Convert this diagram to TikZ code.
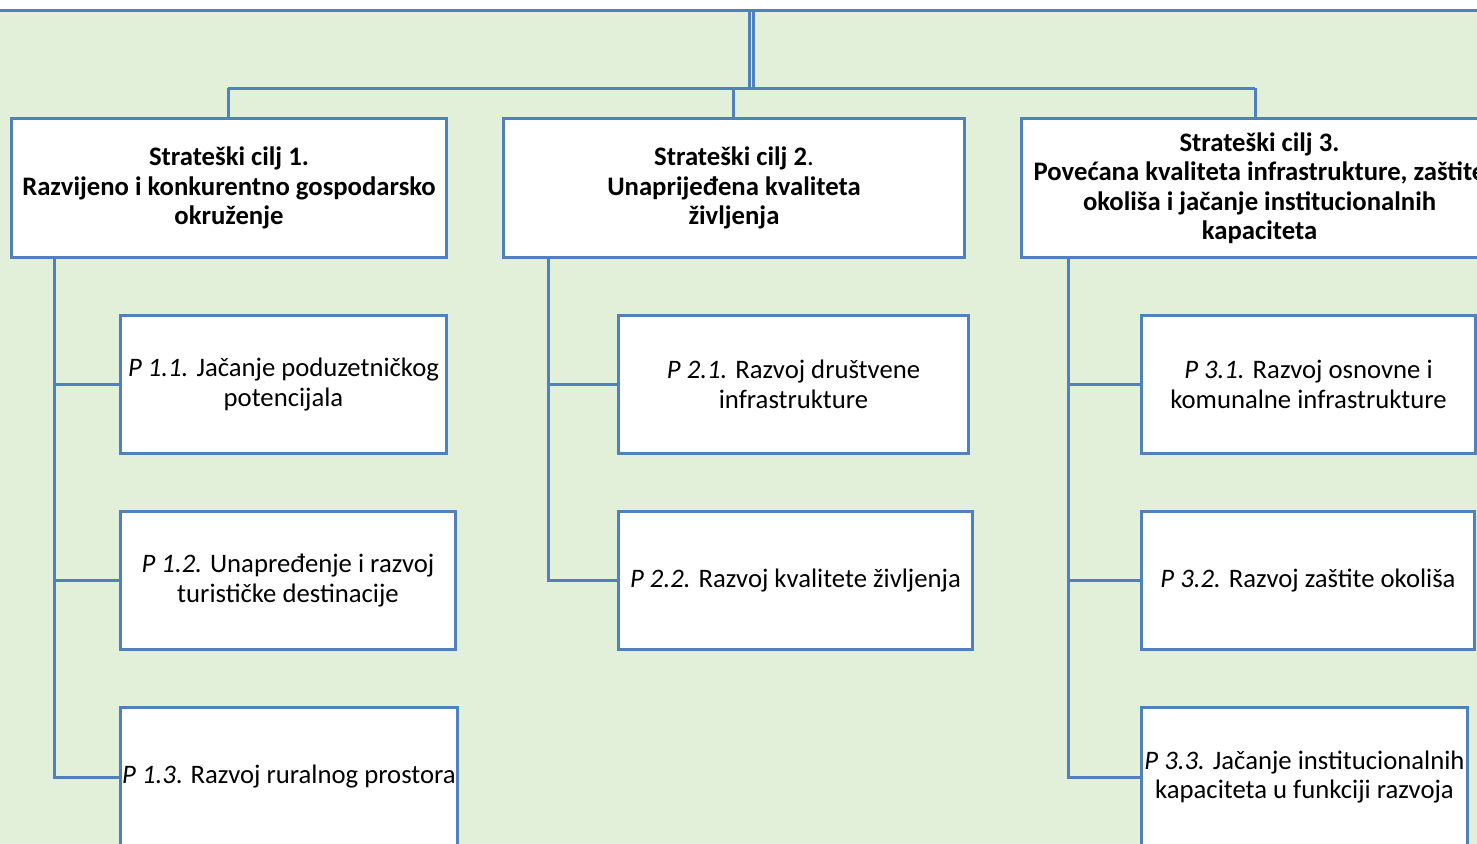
\documentclass[tikz,border=0pt]{standalone}
\usepackage{fontspec}
\setmainfont{Carlito}
\definecolor{lineblue}{HTML}{4F81BD}
\definecolor{bggreen}{HTML}{E2EFD9}
\begin{document}
\begin{tikzpicture}[x=1pt,y=-1pt,
  box/.style={draw=lineblue, line width=3pt, fill=white, inner sep=1pt,
    align=center, font=\fontsize{26.7}{29.5}\selectfont, anchor=north west},
  conn/.style={draw=lineblue, line width=3pt}]
\useasboundingbox (0,0) rectangle (1477,843);
\begin{scope}
\clip (0,0) rectangle (1477,843);
% background frame
\path[fill=bggreen, draw=lineblue, line width=3pt] (-10,11) rectangle (1490,880);
% strategic goals
\node[box, minimum width=435pt, minimum height=139pt] (S1) at (10,117)
  {\textbf{Strateški cilj 1.}\\\textbf{Razvijeno i konkurentno gospodarsko}\\\textbf{okruženje}};
\node[box, minimum width=461pt, minimum height=139pt] (S2) at (502,117)
  {\textbf{Strateški cilj 2}.\\\textbf{Unaprijeđena kvaliteta}\\\textbf{življenja}};
\node[box, minimum width=476pt, minimum height=139pt] (S3) at (1020,117)
  {\textbf{Strateški cilj 3.}\\\textbf{Povećana kvaliteta infrastrukture, zaštite}\\\textbf{okoliša i jačanje institucionalnih}\\\textbf{kapaciteta}};
% priorities
\node[box, minimum width=326pt, minimum height=138pt] (P11) at (119,314)
  {\textit{P 1.1.} Jačanje poduzetničkog\\potencijala};
\node[box, minimum width=335pt, minimum height=138pt] (P12) at (119,510)
  {\textit{P 1.2.} Unapređenje i razvoj\\turističke destinacije};
\node[box, minimum width=337pt, minimum height=139pt] (P13) at (119,706)
  {\textit{P 1.3}. Razvoj ruralnog prostora};
\node[box, minimum width=350pt, minimum height=138pt] (P21) at (617,314)
  {\textit{P 2.1.} Razvoj društvene\\infrastrukture};
\node[box, minimum width=354pt, minimum height=138pt] (P22) at (617,510)
  {\textit{P 2.2.} Razvoj kvalitete življenja};
\node[box, minimum width=334pt, minimum height=138pt] (P31) at (1140,314)
  {\textit{P 3.1.} Razvoj osnovne i\\komunalne infrastrukture};
\node[box, minimum width=333pt, minimum height=138pt] (P32) at (1140,510)
  {\textit{P 3.2.} Razvoj zaštite okoliša};
\node[box, minimum width=326pt, minimum height=139pt] (P33) at (1140,706)
  {\textit{P 3.3.} Jačanje institucionalnih\\kapaciteta u funkciji razvoja};
% top hub
\coordinate (hubL) at (749,11);
\coordinate (hubR) at (753,11);
\coordinate (busL) at (228,88);
\coordinate (busM) at (733,88);
\coordinate (busR) at (1255,88);
\draw[conn] (hubL) -- (hubL |- busL);
\draw[conn] (hubR) -- (hubR |- busL);
\draw[conn] (busL) -- (busR);
\draw[conn] (busL) -- (busL |- S1.north);
\draw[conn] (busM) -- (busM |- S2.north);
\draw[conn] (busR) -- (busR |- S3.north);
% spines
\coordinate (sp1) at (54,256);
\coordinate (sp2) at (548,256);
\coordinate (sp3) at (1068,256);
\draw[conn] (sp1) |- (P13.west);
\draw[conn] (sp1 |- P11.west) -- (P11.west);
\draw[conn] (sp1 |- P12.west) -- (P12.west);
\draw[conn] (sp2) |- (P22.west);
\draw[conn] (sp2 |- P21.west) -- (P21.west);
\draw[conn] (sp3) |- (P33.west);
\draw[conn] (sp3 |- P31.west) -- (P31.west);
\draw[conn] (sp3 |- P32.west) -- (P32.west);
\end{scope}
\end{tikzpicture}
\end{document}
